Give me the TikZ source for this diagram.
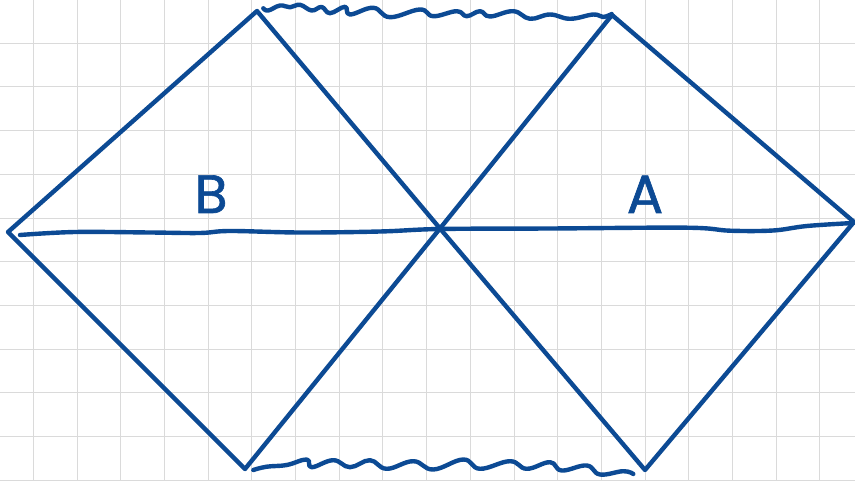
\documentclass[tikz,border=0pt]{standalone}
\usepackage{fontspec}
\newfontfamily\lblfont{Poppins}[FakeBold=1.2]
\definecolor{ink}{RGB}{12,74,148}
\definecolor{gridc}{RGB}{218,218,218}
\tikzset{
  inkline/.style={draw=ink, line width=4.4pt, line cap=round, line join=round},
  gridline/.style={draw=gridc, line width=1pt},
  lbl/.style={text=ink, font=\lblfont\fontsize{54}{54}\selectfont, inner sep=0pt}
}
\begin{document}
\begin{tikzpicture}[x=1pt,y=-1pt]
\useasboundingbox (0,0) rectangle (855,481);
\fill[white] (0,0) rectangle (855,481);
% grid
\foreach \k in {0,...,18} {\draw[gridline] ({33.3+43.7*\k},0) -- ({33.3+43.7*\k},481);}
\foreach \k in {0,...,11} {\draw[gridline] (0,{-0.4+43.7*\k}) -- (855,{-0.4+43.7*\k});}
% vertices
\coordinate (L) at (8,232);
\coordinate (TL) at (257,11);
\coordinate (TR) at (612,15);
\coordinate (R) at (854,222);
\coordinate (BL) at (245,469);
\coordinate (BR) at (645,470);
\coordinate (C) at (440,228.5);
% diamond edges
\draw[inkline] (BL) -- (L) -- (TL) -- (C) -- (BR) -- (R) -- (TR) -- (C) -- (BL);
% horizon line (hand drawn)
\draw[inkline] plot[smooth, tension=0.6] coordinates {(20,235) (75,232) (150,232.5) (200,233) (230,231) (300,232.5) (380,231.5) (440,229) (550,228.5) (687,227.7) (730,230.7) (773,230.5) (807,226) (853,223)};
% singularities
\draw[inkline] plot[smooth, tension=0.7] coordinates {(263.3,8.3) (268.3,10.5) (280,5.5) (290,7.3) (300,4.8) (311.7,10.5) (321.7,7) (330,13.2) (345,6.8) (350,14.5) (373.3,7.8) (390,17.2) (420,9.5) (433.3,16.2) (456.7,11.2) (466.7,16.2) (480,11.2) (490,16.5) (513.3,11.2) (530,18.8) (550,14.5) (570,18.8) (593.3,14.5) (603,17) (611.7,14)};
\draw[inkline] plot[smooth, tension=0.7] coordinates {(253.3,470) (266.7,466.7) (286.7,465) (306.7,459.5) (311.7,467.2) (333.3,460.2) (350,467.2) (370,460.2) (386.7,468.8) (413.3,461.2) (433.3,469.5) (463.3,459.5) (480,468.8) (510,461.2) (526.7,468.8) (550,462.2) (561.7,470.5) (586.7,465.5) (600,474.5) (623.3,471.2) (633.3,474)};
% labels
\node[lbl, anchor=base] (B) at (211,213) {B};
\node[lbl, anchor=base] (A) at (645,213) {A};
\end{tikzpicture}
\end{document}
